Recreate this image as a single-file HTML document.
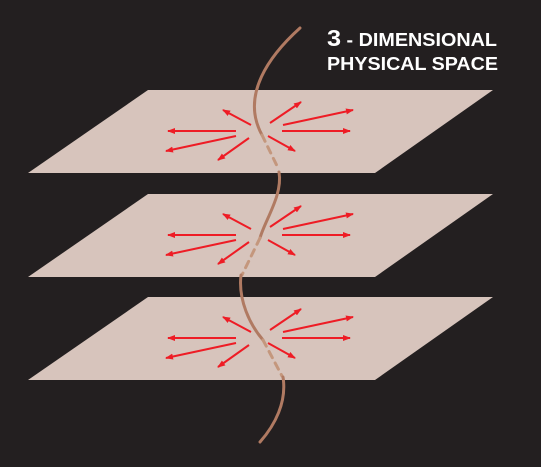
<!DOCTYPE html>
<html><head><meta charset="utf-8"><style>
html,body{margin:0;padding:0;background:#231f20;}
svg{display:block}
</style></head><body>
<svg width="541" height="467" viewBox="0 0 541 467" xmlns="http://www.w3.org/2000/svg">
<defs>
<marker id="ah" markerWidth="8" markerHeight="6" refX="7" refY="3" orient="auto" markerUnits="userSpaceOnUse">
<path d="M0,0 L8,3 L0,6 Z" fill="#ee1c25"/>
</marker>
</defs>
<rect width="541" height="467" fill="#231f20"/>
<g id="planes"></g>
<g id="curve" fill="none" stroke="#b07a62" stroke-width="3" stroke-linecap="round">
<path d="M300,28 C270,55 240,95 262,135"/>
<path d="M262,135 L279,170" stroke-dasharray="7,6" stroke="#c4977d"/>
<path d="M279,172 C283,195 265,220 260,238"/>
<path d="M260,238 L242,275" stroke-dasharray="7,6" stroke="#c4977d"/>
<path d="M241,275 C238,300 250,325 263,340"/>
<path d="M263,340 L282,376" stroke-dasharray="7,6" stroke="#c4977d"/>
<path d="M283,377 C287,402 275,425 260,442"/>
</g>
<text x="327" y="46" textLength="170" lengthAdjust="spacingAndGlyphs" fill="#fff" font-family="Liberation Sans, sans-serif" font-weight="bold" font-size="18"><tspan font-size="23">3</tspan> - DIMENSIONAL</text>
<text x="327" y="70" textLength="171" lengthAdjust="spacingAndGlyphs" fill="#fff" font-family="Liberation Sans, sans-serif" font-weight="bold" font-size="18">PHYSICAL SPACE</text>
</svg>
<script>
const planeTops = [90, 194, 297];
const planeCenters = [[260,131],[260,235],[260,338]];
// arrows: [startDx, startDy, endDx, endDy] relative to plane center
const arrowStarts = [[-24,0],[-24,5],[-9,-6],[-11,7],[10,-8],[23,-6],[22,0],[8,5]];
const arrowEnds = [[-92,0],[-94,20],[-37,-21],[-42,29],[41,-29],[93,-21],[90,0],[35,20]];
const NS="http://www.w3.org/2000/svg";
const pg=document.getElementById('planes');
planeTops.forEach((t,i)=>{
  const p=document.createElementNS(NS,'polygon');
  p.setAttribute('points',`148,${t} 493,${t} 375,${t+83} 28,${t+83}`);
  p.setAttribute('fill','#d7c4bc');
  
  
  pg.appendChild(p);
});
const svg=document.querySelector('svg');
const ag=document.createElementNS(NS,'g');
svg.insertBefore(ag,document.getElementById('curve'));
planeCenters.forEach((c,i)=>{
  arrowStarts.forEach((s,j)=>{
    const e=arrowEnds[j];
    const l=document.createElementNS(NS,'line');
    l.setAttribute('x1',c[0]+s[0]);l.setAttribute('y1',c[1]+s[1]);
    l.setAttribute('x2',c[0]+e[0]);l.setAttribute('y2',c[1]+e[1]);
    l.setAttribute('stroke','#ee1c25');l.setAttribute('stroke-width','2');
    l.setAttribute('marker-end','url(#ah)');
    
    
    ag.appendChild(l);
  });
});
</script>
</body></html>
